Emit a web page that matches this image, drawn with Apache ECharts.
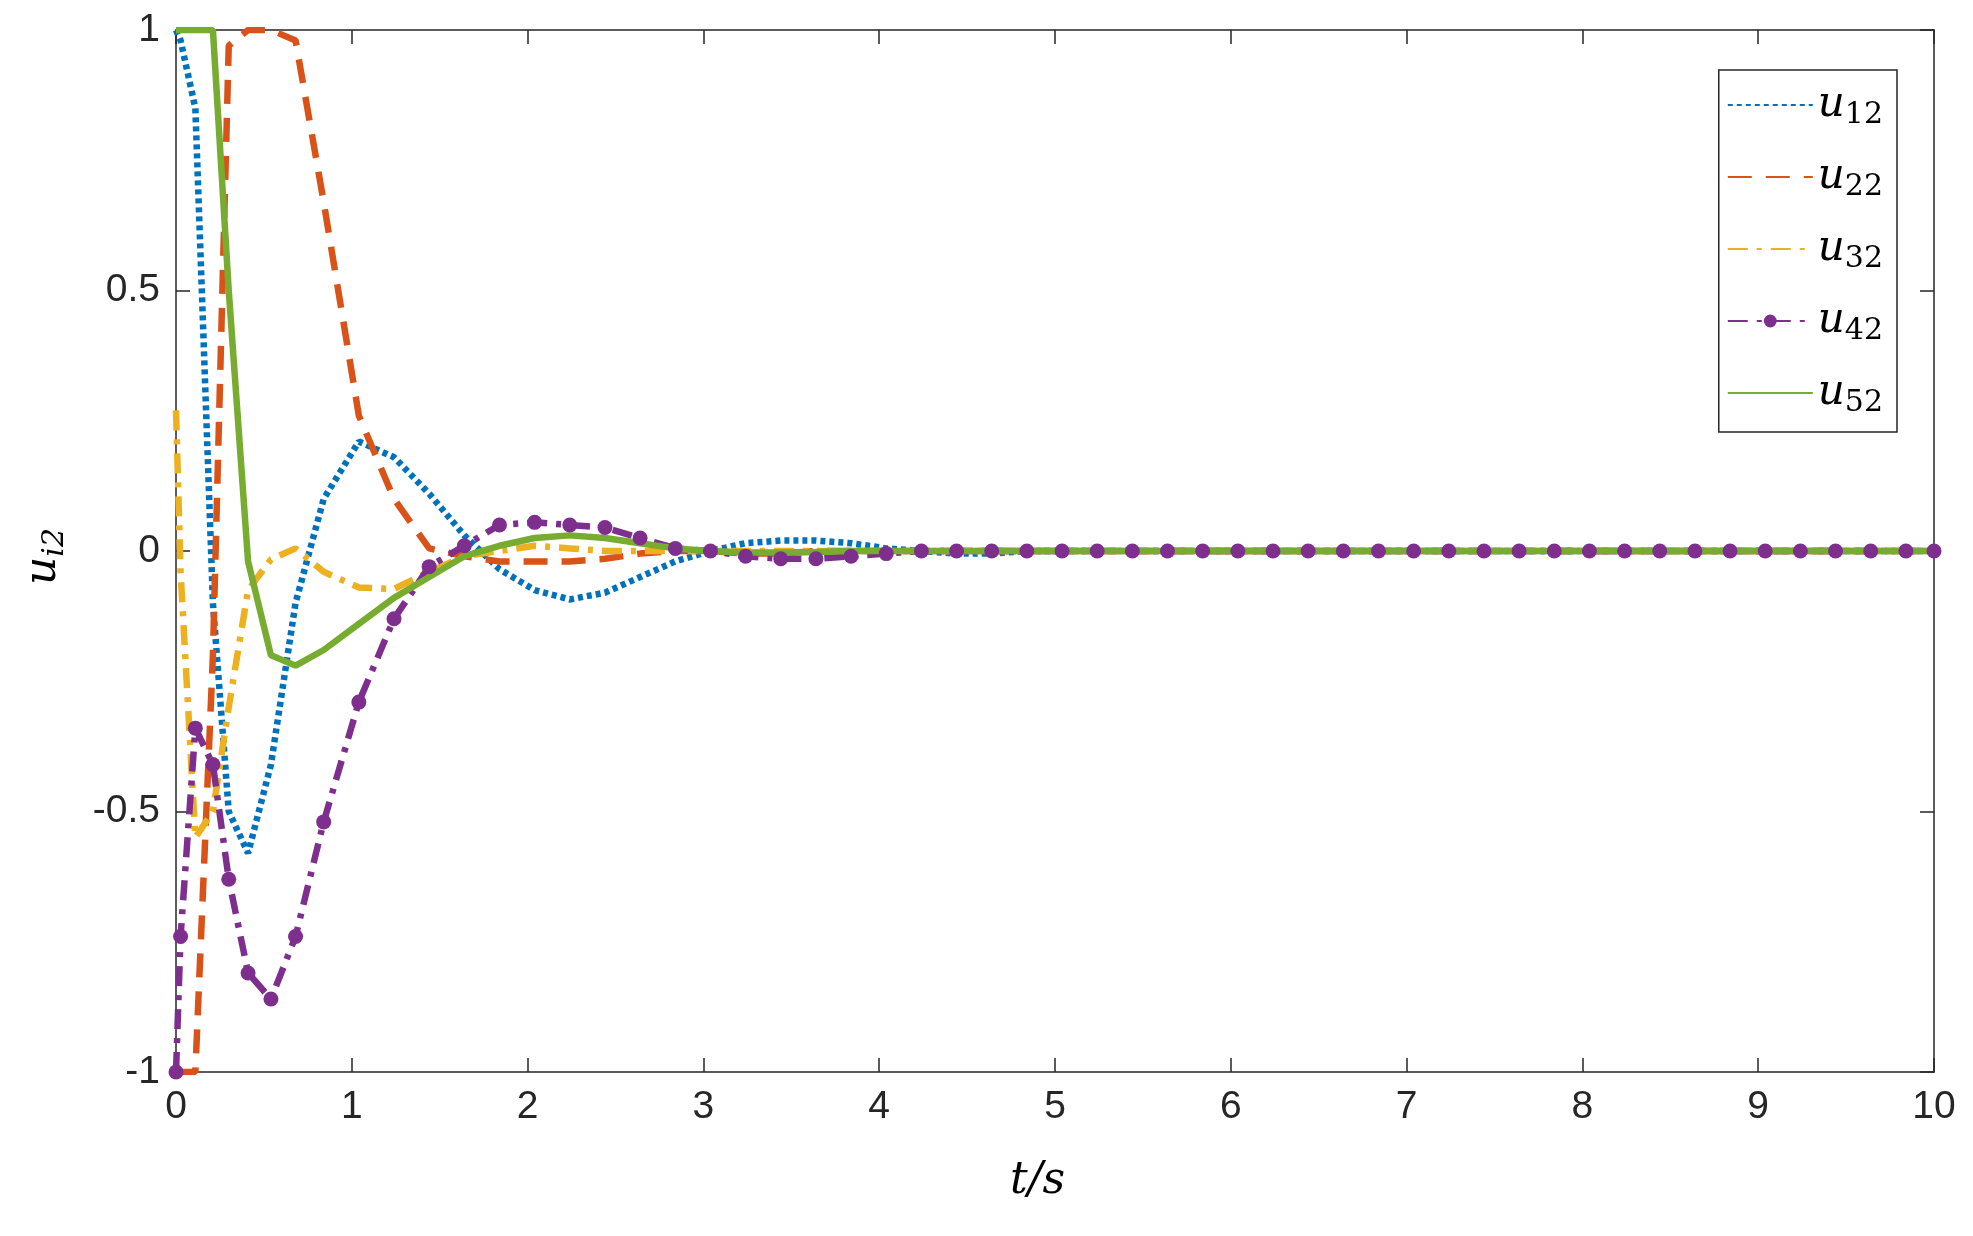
<!DOCTYPE html>
<html><head><meta charset="utf-8">
<script src="https://cdn.jsdelivr.net/npm/echarts@6/dist/echarts.min.js"></script>
<style>html,body{margin:0;background:#fff}#c{width:1973px;height:1236px}</style>
</head><body><div id="c"></div>
<script>
var times = [0,0.026,0.11,0.21,0.3,0.41,0.54,0.68,0.84,1.04,1.24,1.44,1.64,1.84,2.04,2.24,2.44,2.64,2.84,3.04,
  3.24,3.44,3.64,3.84,4.04,4.24,4.44,4.64,4.84,5.04,5.24,5.44,5.64,5.84,6.04,6.24,6.44,6.64,6.84,7.04,
  7.24,7.44,7.64,7.84,8.04,8.24,8.44,8.64,8.84,9.04,9.24,9.44,9.64,9.84,10];
var u12 = [1,0.98,0.85,-0.1,-0.5,-0.58,-0.41,-0.1,0.1,0.21,0.18,0.11,0.03,-0.035,-0.075,-0.093,-0.08,-0.05,-0.02,0,
  0.015,0.02,0.02,0.015,0.005,0,-0.005,-0.005,0,0,0,0,0,0,0,0,0,0,0,0,0,0,0,0,0,0,0,0,0,0,0,0,0,0,0];
var u22 = [-1,-1,-1,-0.2,0.97,1,1,0.98,0.67,0.26,0.1,0.005,-0.01,-0.02,-0.02,-0.02,-0.015,-0.005,0,0,
  -0.005,-0.005,0,0,0,0,0,0,0,0,0,0,0,0,0,0,0,0,0,0,0,0,0,0,0,0,0,0,0,0,0,0,0,0,0];
var u32 = [0.27,-0.04,-0.55,-0.5,-0.3,-0.075,-0.016,0.005,-0.04,-0.07,-0.073,-0.04,-0.01,0,0.01,0.005,0,0,0,0,
  0,0,0,0,0,0,0,0,0,0,0,0,0,0,0,0,0,0,0,0,0,0,0,0,0,0,0,0,0,0,0,0,0,0,0];
var u42 = [-1,-0.74,-0.34,-0.41,-0.63,-0.81,-0.86,-0.74,-0.52,-0.29,-0.13,-0.03,0.01,0.05,0.055,0.05,0.045,0.025,0.005,0,
  -0.01,-0.015,-0.015,-0.01,-0.005,0,0,0,0,0,0,0,0,0,0,0,0,0,0,0,0,0,0,0,0,0,0,0,0,0,0,0,0,0,0];
var u52 = [1,1,1,1,0.5,-0.02,-0.2,-0.22,-0.19,-0.14,-0.09,-0.05,-0.01,0.01,0.025,0.03,0.025,0.015,0.005,0,
  -0.003,-0.003,-0.002,0,0,0,0,0,0,0,0,0,0,0,0,0,0,0,0,0,0,0,0,0,0,0,0,0,0,0,0,0,0,0,0];
var names = ['u12','u22','u32','u42','u52'];

function pairs(v){ return times.map(function(t,i){ return [t, v[i]]; }); }

var tickFont = {fontFamily:'Arial, Liberation Sans', fontSize:39, color:'#262626'};
function xAxis(pos, show){
  return {type:'value', position:pos, min:0, max:10, interval:1,
    axisLine:{show:true, onZero:false, lineStyle:{color:'#262626', width:1.5}},
    axisTick:{inside:true, length:14, lineStyle:{color:'#262626', width:1.5}},
    axisLabel:Object.assign({show:show, margin:16}, tickFont),
    splitLine:{show:false}};
}
function yAxis(pos, show){
  return {type:'value', position:pos, min:-1, max:1, interval:0.5,
    axisLine:{show:true, onZero:false, lineStyle:{color:'#262626', width:1.5}},
    axisTick:{inside:true, length:14, lineStyle:{color:'#262626', width:1.5}},
    axisLabel:Object.assign({show:show, margin:16, formatter:function(v){ return String(v); }}, tickFont),
    splitLine:{show:false}};
}

var colors = ['#0072BD','#D95319','#EDB120','#7E2F8E','#77AC30'];
var styles = [[5,4],[24,14],[20,9,5,9],[20,9,5,9],'solid'];

var series = [u12,u22,u32,u42,u52].map(function(v,i){
  return {name:names[i], type:'line', data:pairs(v), xAxisIndex:0, yAxisIndex:0,
    symbol: i===3 ? 'circle' : 'none', symbolSize:15, showSymbol: i===3,
    itemStyle:{color:colors[i]},
    lineStyle:{color:colors[i], width:6.5, type:styles[i]}, animation:false};
});

var chart = echarts.init(document.getElementById('c'));
chart.setOption({
  animation:false,
  grid:{left:176, right:39, top:30, bottom:164, containLabel:false},
  xAxis:[xAxis('bottom', true), xAxis('top', false)],
  yAxis:[yAxis('left', true), yAxis('right', false)],
  legend:{orient:'vertical', right:76, top:70, itemWidth:85, itemHeight:16, itemGap:26,
    padding:[14,14,14,8], borderColor:'#262626', borderWidth:1.5, backgroundColor:'#fff',
    data:names.map(function(n,i){ return i===3 ? {name:n} : {name:n, itemStyle:{opacity:0}}; }),
    formatter:function(n){ return '{u|u}{s|' + n.slice(1) + '}'; },
    textStyle:{rich:{u:{fontFamily:'DejaVu Serif', fontStyle:'italic', fontSize:42, color:'#000'},
      s:{fontFamily:'DejaVu Serif', fontSize:30, color:'#000', verticalAlign:'bottom', padding:[20,0,0,0]}}}},
  graphic:[
    {type:'text', left:1010, top:1160, style:{text:'t/s', font:'italic 44px DejaVu Serif', fill:'#000'}},
    {type:'text', x:18, y:585, rotation:Math.PI/2,
      style:{rich:{u:{font:'italic 44px DejaVu Serif', fill:'#000'}, s:{font:'italic 30px DejaVu Serif', fill:'#000', padding:[22,0,0,0]}},
        text:'{u|u}{s|i2}', fill:'#000'}}
  ],
  series:series
});
</script></body></html>
